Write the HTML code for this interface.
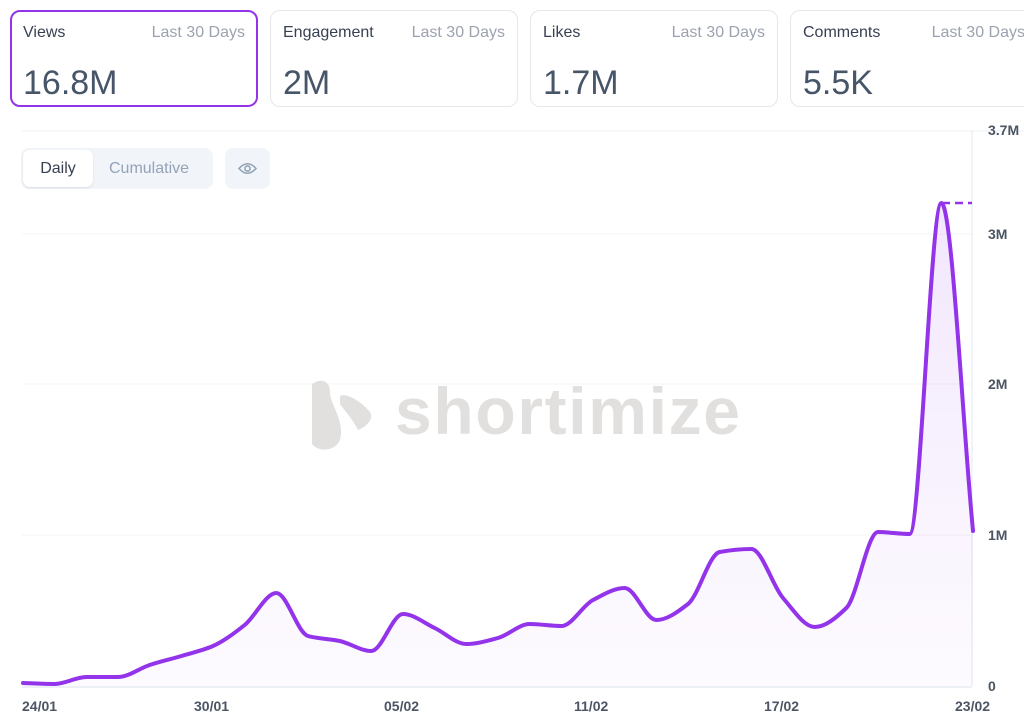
<!DOCTYPE html>
<html><head><meta charset="utf-8"><style>
body{margin:0;width:1024px;height:723px;background:#fff;font-family:"Liberation Sans",sans-serif;overflow:hidden;position:relative}
.card{position:absolute;top:10px;height:97px;border:1px solid #e5e7eb;border-radius:10px;box-sizing:border-box;background:#fff}
.card.sel{border:2px solid #9333ea}
.t{position:absolute;left:12px;top:13px;font-size:16px;color:#374151}
.r{position:absolute;right:12px;top:13px;font-size:16px;color:#9ca3af}
.v{position:absolute;left:12px;top:53px;font-size:34px;color:#475569}
.sel .t{left:11px;top:12px}.sel .v{left:11px;top:52px}.sel .r{right:11px;top:12px}
.tog{position:absolute;left:21px;top:148px;width:192px;height:41px;background:#f1f5f9;border-radius:8px}
.tog .d{position:absolute;left:2px;top:2px;width:70px;height:37px;background:#fff;border-radius:7px;box-shadow:0 1px 2px rgba(0,0,0,.1);font-size:16px;color:#374151;text-align:center;line-height:37px}
.tog .c{position:absolute;left:88px;top:0;font-size:16px;color:#94a3b8;line-height:41px}
.eye{position:absolute;left:225px;top:148px;width:45px;height:41px;background:#f1f5f9;border-radius:8px}
.yl{position:absolute;left:988px;font-size:14px;font-weight:bold;color:#4b5563}
.xl{position:absolute;top:698px;font-size:14px;font-weight:bold;color:#4b5563}
</style></head><body>
<div class="card sel" style="left:10px;width:248px"><span class="t">Views</span><span class="r">Last 30 Days</span><span class="v">16.8M</span></div>
<div class="card" style="left:270px;width:248px"><span class="t">Engagement</span><span class="r">Last 30 Days</span><span class="v">2M</span></div>
<div class="card" style="left:530px;width:248px"><span class="t">Likes</span><span class="r">Last 30 Days</span><span class="v">1.7M</span></div>
<div class="card" style="left:790px;width:248px"><span class="t">Comments</span><span class="r">Last 30 Days</span><span class="v">5.5K</span></div>
<svg width="1024" height="723" style="position:absolute;left:0;top:0">
<defs><linearGradient id="g" x1="0" y1="0" x2="0" y2="1"><stop offset="0" stop-color="#9333ea" stop-opacity="0.12"/><stop offset="1" stop-color="#9333ea" stop-opacity="0.02"/></linearGradient></defs>
<line x1="22" y1="131" x2="1024" y2="131" stroke="#eef0f3"/>
<line x1="22" y1="234" x2="972" y2="234" stroke="#f3f4f6"/>
<line x1="22" y1="384" x2="972" y2="384" stroke="#f3f4f6"/>
<line x1="22" y1="535" x2="972" y2="535" stroke="#f3f4f6"/>
<line x1="972" y1="131" x2="972" y2="686" stroke="#e2e8f0"/>
<line x1="22" y1="687" x2="972" y2="687" stroke="#dbe1ea"/>
<g fill="#e2e0de"><path d="M312 384 C320 378 330 380 330 392 C330 405 345 420 340 440 C335 452 318 452 312 444 Z"/><path d="M340 396 C346 392 362 402 370 412 C374 418 368 426 358 430 C352 418 344 410 340 404 Z"/>
<text x="395" y="434" font-size="66" font-weight="bold" font-family="Liberation Sans,sans-serif" fill="#e2e0de" textLength="345" lengthAdjust="spacing">shortimize</text></g>
<path id="area" fill="url(#g)"/>
<path id="ln" fill="none" stroke="#9333ea" stroke-width="4" stroke-linecap="round"/>
<line x1="942" y1="203" x2="972" y2="203" stroke="#9333ea" stroke-width="2.5" stroke-dasharray="8,5"/>
</svg>
<div class="tog"><div class="d">Daily</div><div class="c">Cumulative</div></div>
<div class="eye"><svg width="45" height="41"><path d="M14 20.5 Q22.5 11 31 20.5 Q22.5 30 14 20.5Z" fill="none" stroke="#94a3b8" stroke-width="1.6"/><circle cx="22.5" cy="20.5" r="2.6" fill="none" stroke="#94a3b8" stroke-width="1.6"/></svg></div>
<div class="yl" style="top:122px">3.7M</div>
<div class="yl" style="top:226px">3M</div>
<div class="yl" style="top:376px">2M</div>
<div class="yl" style="top:527px">1M</div>
<div class="yl" style="top:678px">0</div>
<div class="xl" style="left:22px">24/01</div>
<div class="xl" style="left:194px">30/01</div>
<div class="xl" style="left:384px">05/02</div>
<div class="xl" style="left:574px">11/02</div>
<div class="xl" style="left:764px">17/02</div>
<div class="xl" style="left:955px">23/02</div>
<script>
var ys=[683,684,677,677,665,656,646,625,593,636,641,651,614,628,644,638,624,626,600,588,620,604,552,549,598,627,608,532,534,203,531];
var p=ys.map(function(y,i){return [23+i*31.667,y]});
var n=p.length,d=[],m=[];
for(var i=0;i<n-1;i++)d.push((p[i+1][1]-p[i][1])/(p[i+1][0]-p[i][0]));
m[0]=d[0];m[n-1]=d[n-2];
for(i=1;i<n-1;i++){m[i]=(d[i-1]*d[i]<=0)?0:(2/(1/d[i-1]+1/d[i]));}
var s="M"+p[0][0]+","+p[0][1];
for(i=0;i<n-1;i++){var h=(p[i+1][0]-p[i][0])/3;
s+=" C"+(p[i][0]+h)+","+(p[i][1]+m[i]*h)+" "+(p[i+1][0]-h)+","+(p[i+1][1]-m[i+1]*h)+" "+p[i+1][0]+","+p[i+1][1];}
document.getElementById("ln").setAttribute("d",s);
document.getElementById("area").setAttribute("d",s+" L"+p[n-1][0]+",686 L"+p[0][0]+",686Z");
</script>
</body></html>
